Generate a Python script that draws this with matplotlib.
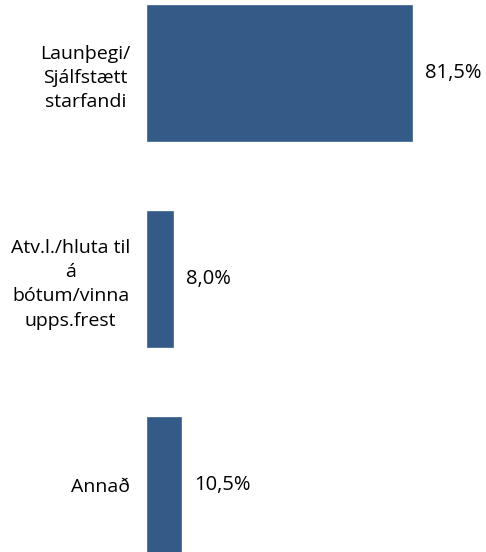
import matplotlib
matplotlib.use("Agg")
import matplotlib.pyplot as plt

categories = ["Launþegi/\nSjálfstætt\nstarfandi",
              "Atv.l./hluta til\ná\nbótum/vinna\nupps.frest",
              "Annað"]
values = [81.5, 8.0, 10.5]
value_labels = ["81,5%", "8,0%", "10,5%"]

plt.rcParams['font.family'] = ['Open Sans', 'DejaVu Sans']

fig = plt.figure(figsize=(4.86, 5.52), dpi=100)
ax = fig.add_axes([0.3025, 0, 0.6975, 1])

pos = list(range(len(categories)))
bars = ax.barh(pos, values, height=0.66, color="#345a87", edgecolor="#4a6f9a", linewidth=0.6)

ax.set_xlim(0, 104.3)
ax.set_ylim(2.325, -0.354)

ax.set_yticks(pos)
ax.set_yticklabels(categories, fontsize=14, multialignment="center", linespacing=1.45)
ax.tick_params(axis="y", length=0, pad=12)
ax.set_xticks([])
for s in ax.spines.values():
    s.set_visible(False)

for b, lab in zip(bars, value_labels):
    ax.annotate(lab, (b.get_width(), b.get_y() + b.get_height() / 2),
                xytext=(13, 0), textcoords="offset pixels",
                va="center", ha="left", fontsize=14.5)

fig.savefig("out.png", dpi=100)
